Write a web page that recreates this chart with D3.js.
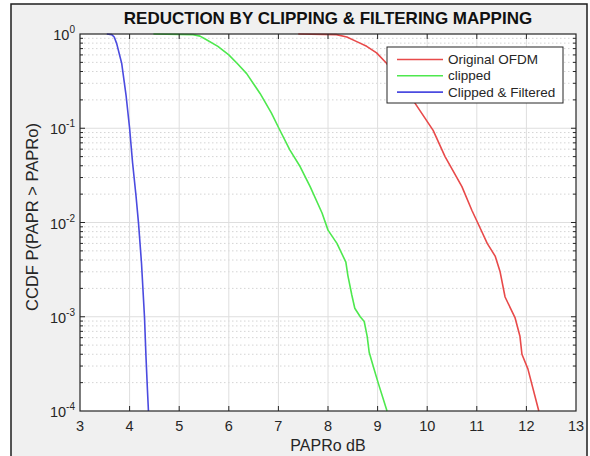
<!DOCTYPE html>
<html>
<head>
<meta charset="utf-8">
<script src="https://cdn.jsdelivr.net/npm/d3@7"></script>
<style>
  html, body { margin: 0; padding: 0; background: #ffffff; }
  svg { display: block; font-family: Arial, "Liberation Sans", Helvetica, sans-serif; }
</style>
</head>
<body>
<svg id="chart" width="590" height="456"></svg>
<script>
// CCDF of PAPR for the three signal variants
const seriesNames = ["Original OFDM", "clipped", "Clipped & Filtered"];
const seriesColors = ["#e84a4a", "#4ee84e", "#4b4be0"];

const originalX = [7.40, 8.17, 8.38, 8.58, 8.78, 8.98, 9.18, 9.45, 9.75, 10.12, 10.36, 10.70, 10.90, 11.06, 11.21, 11.37, 11.47, 11.57, 11.77, 11.87, 11.91, 12.03, 12.25];
const originalY = [1, 0.985, 0.93, 0.83, 0.74, 0.63, 0.49, 0.31, 0.186, 0.095, 0.050, 0.024, 0.0135, 0.0089, 0.0060, 0.0044, 0.0030, 0.00162, 0.00098, 0.00062, 0.00040, 0.00028, 0.0001];

const clippedX = [4.48, 5.28, 5.42, 5.55, 5.78, 6.00, 6.18, 6.36, 6.63, 6.86, 7.01, 7.23, 7.44, 7.64, 7.88, 8.00, 8.18, 8.36, 8.40, 8.48, 8.54, 8.65, 8.73, 8.79, 8.83, 8.91, 9.01, 9.19];
const clippedY = [1, 0.985, 0.95, 0.87, 0.74, 0.60, 0.48, 0.38, 0.234, 0.145, 0.100, 0.059, 0.039, 0.024, 0.0126, 0.0083, 0.0060, 0.0038, 0.00275, 0.0017, 0.00123, 0.0010, 0.00089, 0.00062, 0.00042, 0.00030, 0.00020, 0.0001];

const filteredX = [3.54, 3.64, 3.69, 3.74, 3.84, 3.93, 4.00, 4.06, 4.13, 4.18, 4.24, 4.30, 4.33, 4.36, 4.38];
const filteredY = [1, 0.985, 0.93, 0.79, 0.49, 0.22, 0.10, 0.043, 0.019, 0.0098, 0.0037, 0.0010, 0.00038, 0.000166, 0.0001];

const xTicks = [3, 4, 5, 6, 7, 8, 9, 10, 11, 12, 13];
const yTickExponents = [0, -1, -2, -3, -4];

const titleText = "REDUCTION BY CLIPPING & FILTERING MAPPING";
const xLabelText = "PAPRo dB";
const yLabelText = "CCDF P(PAPR > PAPRo)";

const svg = d3.select("#chart");
const W = 590, H = 456;
const plot = { left: 80, right: 576, top: 34, bottom: 411 };
const axisColor = "#262626";

// figure panel
svg.append("rect").attr("x", 0).attr("y", 0).attr("width", W).attr("height", H).attr("fill", "#ffffff");
svg.append("rect")
  .attr("x", 11).attr("y", 4).attr("width", 576).attr("height", 470)
  .attr("fill", "#f0f0f0").attr("stroke", "#1e1e1e").attr("stroke-width", 1.5);

const x = d3.scaleLinear().domain([3, 13]).range([plot.left, plot.right]);
const y = d3.scaleLog().domain([1e-4, 1]).range([plot.bottom, plot.top]);

// plot background
svg.append("rect")
  .attr("x", plot.left).attr("y", plot.top)
  .attr("width", plot.right - plot.left).attr("height", plot.bottom - plot.top)
  .attr("fill", "#ffffff");

// minor y grid (dotted)
const minorY = [];
for (let e = -4; e < 0; e++) for (let m = 2; m <= 9; m++) minorY.push(m * Math.pow(10, e));
const grid = svg.append("g");
grid.selectAll("line.minor").data(minorY).join("line")
  .attr("class", "minor")
  .attr("x1", plot.left).attr("x2", plot.right)
  .attr("y1", d => y(d)).attr("y2", d => y(d))
  .attr("stroke", "#d4d4d4").attr("stroke-width", 1).attr("stroke-dasharray", "1.5,2.5");

// major grid (solid)
grid.selectAll("line.majy").data(yTickExponents.slice(1, 4)).join("line")
  .attr("class", "majy")
  .attr("x1", plot.left).attr("x2", plot.right)
  .attr("y1", d => y(Math.pow(10, d))).attr("y2", d => y(Math.pow(10, d)))
  .attr("stroke", "#dedede").attr("stroke-width", 1);
grid.selectAll("line.majx").data(xTicks.slice(1, -1)).join("line")
  .attr("class", "majx")
  .attr("x1", d => x(d)).attr("x2", d => x(d))
  .attr("y1", plot.top).attr("y2", plot.bottom)
  .attr("stroke", "#dedede").attr("stroke-width", 1);

// curves
svg.append("clipPath").attr("id", "plotClip").append("rect")
  .attr("x", plot.left).attr("y", plot.top - 1)
  .attr("width", plot.right - plot.left).attr("height", plot.bottom - plot.top + 2);

const series = [
  { xs: originalX, ys: originalY },
  { xs: clippedX, ys: clippedY },
  { xs: filteredX, ys: filteredY }
];
const line = d3.line().x(d => x(d[0])).y(d => y(d[1])).curve(d3.curveLinear);
const curves = svg.append("g").attr("clip-path", "url(#plotClip)");
series.forEach((s, i) => {
  curves.append("path")
    .datum(s.xs.map((v, k) => [v, s.ys[k]]))
    .attr("d", line)
    .attr("fill", "none")
    .attr("stroke", seriesColors[i])
    .attr("stroke-width", 1.6)
    .attr("stroke-linejoin", "round");
});

// axes box and ticks
const axes = svg.append("g");
axes.append("rect")
  .attr("x", plot.left).attr("y", plot.top)
  .attr("width", plot.right - plot.left).attr("height", plot.bottom - plot.top)
  .attr("fill", "none").attr("stroke", axisColor).attr("stroke-width", 1.2);

const xt = xTicks.slice(1, -1);
axes.selectAll("line.xtb").data(xt).join("line")
  .attr("x1", d => x(d)).attr("x2", d => x(d))
  .attr("y1", plot.bottom).attr("y2", plot.bottom - 5)
  .attr("stroke", axisColor).attr("stroke-width", 1);
axes.selectAll("line.xtt").data(xt).join("line")
  .attr("x1", d => x(d)).attr("x2", d => x(d))
  .attr("y1", plot.top).attr("y2", plot.top + 5)
  .attr("stroke", axisColor).attr("stroke-width", 1);

[plot.left, plot.right].forEach((px, side) => {
  const dir = side === 0 ? 1 : -1;
  axes.selectAll(null).data(minorY).join("line")
    .attr("x1", px).attr("x2", px + dir * 3)
    .attr("y1", d => y(d)).attr("y2", d => y(d))
    .attr("stroke", axisColor).attr("stroke-width", 1);
  axes.selectAll(null).data(yTickExponents.slice(1, 4)).join("line")
    .attr("x1", px).attr("x2", px + dir * 5)
    .attr("y1", d => y(Math.pow(10, d))).attr("y2", d => y(Math.pow(10, d)))
    .attr("stroke", axisColor).attr("stroke-width", 1);
});

// tick labels
svg.append("g").selectAll("text").data(xTicks).join("text")
  .attr("x", d => x(d)).attr("y", plot.bottom + 20)
  .attr("text-anchor", "middle")
  .attr("font-size", 14.5).attr("fill", axisColor)
  .text(d => d);

const yl = svg.append("g").selectAll("text").data(yTickExponents).join("text")
  .attr("x", plot.left - 5).attr("y", d => y(Math.pow(10, d)) + 6)
  .attr("text-anchor", "end")
  .attr("font-size", 14.5).attr("fill", axisColor);
yl.append("tspan").text("10");
yl.append("tspan").attr("dy", -7).attr("font-size", 10).text(d => d);

// title and axis labels
svg.append("text")
  .attr("x", (plot.left + plot.right) / 2).attr("y", 24)
  .attr("text-anchor", "middle").attr("font-size", 17).attr("font-weight", "bold")
  .attr("fill", "#111").text(titleText);

svg.append("text")
  .attr("x", (plot.left + plot.right) / 2).attr("y", 451)
  .attr("text-anchor", "middle").attr("font-size", 16).attr("fill", axisColor)
  .text(xLabelText);

svg.append("text")
  .attr("transform", "translate(38,217) rotate(-90)")
  .attr("text-anchor", "middle").attr("font-size", 16.5).attr("fill", axisColor)
  .text(yLabelText);

// legend
const lg = { x: 387, y: 47, w: 176, h: 56 };
const legend = svg.append("g");
legend.append("rect")
  .attr("x", lg.x).attr("y", lg.y).attr("width", lg.w).attr("height", lg.h)
  .attr("fill", "#ffffff").attr("stroke", axisColor).attr("stroke-width", 1);
seriesNames.forEach((name, i) => {
  const cy = lg.y + 12.5 + i * 16.3;
  legend.append("line")
    .attr("x1", lg.x + 10).attr("x2", lg.x + 56)
    .attr("y1", cy).attr("y2", cy)
    .attr("stroke", seriesColors[i]).attr("stroke-width", 1.6);
  legend.append("text")
    .attr("x", lg.x + 61).attr("y", cy + 4.5)
    .attr("font-size", 13.5).attr("fill", axisColor)
    .text(name);
});
</script>
</body>
</html>
